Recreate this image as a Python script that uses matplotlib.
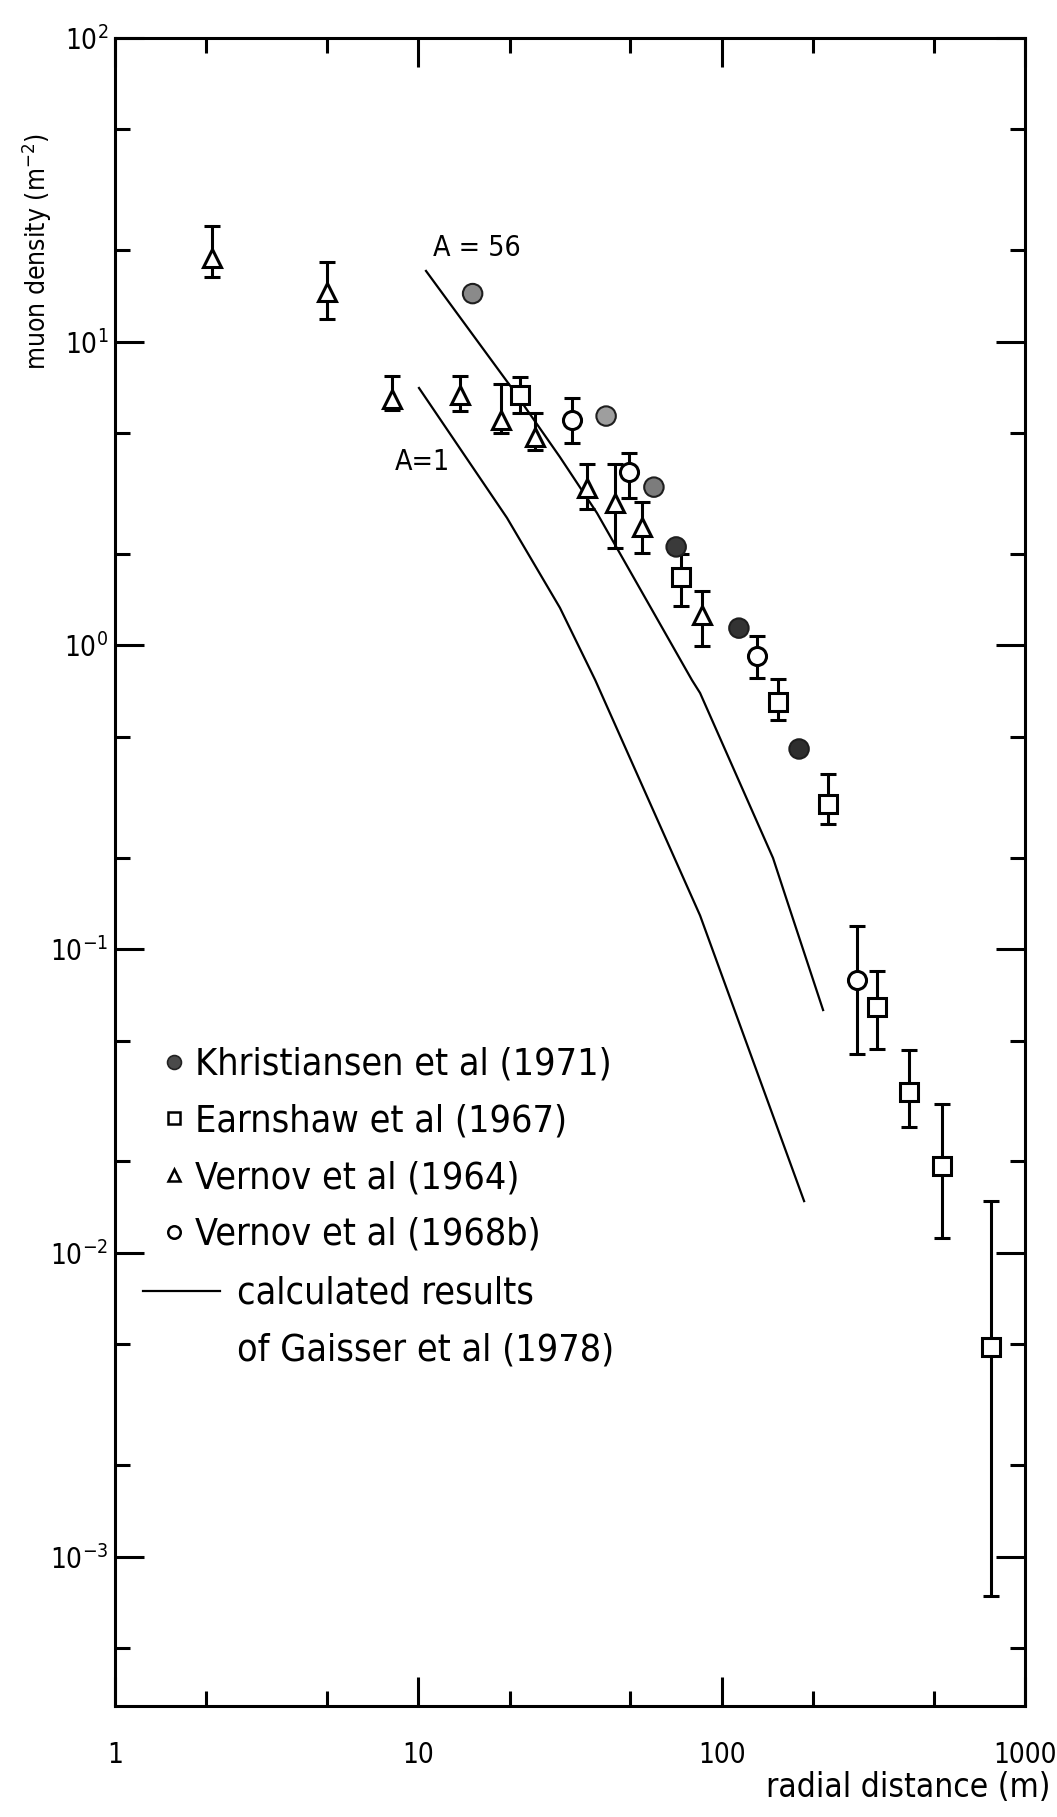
import matplotlib
matplotlib.use("Agg")
import matplotlib.pyplot as plt
from matplotlib.ticker import LogLocator, NullFormatter
from matplotlib.lines import Line2D
from matplotlib import font_manager as fm

# ---------------- data ----------------
kh_r = [15.1, 41.6, 59.8, 70.8, 114, 180]
kh_d = [14.4, 5.69, 3.32, 2.11, 1.14, 0.456]

ea_r = [21.6, 73.5, 153, 224, 325, 415, 533, 773]
ea_d = [6.67, 1.68, 0.651, 0.30, 0.0644, 0.0338, 0.0193, 0.0049]
ea_hi = [7.65, 2.0, 0.775, 0.377, 0.0847, 0.0466, 0.0309, 0.0148]
ea_lo = [5.82, 1.35, 0.568, 0.258, 0.0469, 0.026, 0.0112, 0.00074]

v64_r = [2.09, 5.0, 8.2, 13.7, 18.7, 24.3, 36.0, 44.5, 54.7, 86.2]
v64_d = [18.9, 14.6, 6.48, 6.67, 5.52, 4.86, 3.30, 2.94, 2.45, 1.26]
v64_hi = [24.0, 18.3, 7.7, 7.7, 7.26, 5.82, 3.96, 3.96, 2.97, 1.51]
v64_lo = [16.3, 11.9, 5.96, 5.93, 5.0, 4.4, 2.81, 2.09, 2.01, 0.995]

v68_r = [32.1, 49.5, 131, 279]
v68_d = [5.52, 3.72, 0.923, 0.079]
v68_hi = [6.53, 4.3, 1.07, 0.119]
v68_lo = [4.64, 3.06, 0.78, 0.0452]

a56_r = [10.6, 20.1, 29.3, 38.8, 79.8, 84.9, 147.7, 164, 216]
a56_d = [17.1, 7.15, 4.17, 2.73, 0.769, 0.697, 0.1995, 0.145, 0.063]

a1_r = [10.05, 19.6, 29.3, 38.3, 84.9, 187]
a1_d = [7.04, 2.63, 1.33, 0.769, 0.129, 0.0148]

legend_labels = ["Khristiansen et al (1971)", "Earnshaw et al (1967)",
                 "Vernov et al (1964)", "Vernov et al (1968b)"]
calc_labels = ["calculated results", "of Gaisser et al (1978)"]

# shading of the stippled Khristiansen dots (style)
kh_colors = ["#8a8a8a", "#9e9e9e", "#7c7c7c", "#3a3a3a", "#333333", "#2e2e2e"]

# ---------------- fonts ----------------
names = {f.name for f in fm.fontManager.ttflist}
if "Liberation Sans Narrow" in names:
    plt.rcParams["font.family"] = ["Liberation Sans Narrow", "DejaVu Sans"]
else:
    plt.rcParams["font.family"] = ["DejaVu Sans"]
    plt.rcParams["font.stretch"] = "condensed"
plt.rcParams["mathtext.default"] = "regular"

FS_TICK = 20
FS_LEG = 27
FS_XL = 24
FS_YL = 19
FS_ANN = 20.5

fig = plt.figure(figsize=(10.57, 18.17), dpi=100)
ax = fig.add_axes([0.1088, 0.0611, 0.9697 - 0.1088, 0.9791 - 0.0611])
ax.set_xscale("log")
ax.set_yscale("log")
ax.set_xlim(1, 1000)
ax.set_ylim(10 ** -3.492, 100)

lw = 2.2
for s in ax.spines.values():
    s.set_linewidth(lw)

ax.yaxis.set_major_locator(LogLocator(base=10, numticks=10))
ax.xaxis.set_minor_locator(LogLocator(base=10, subs=(2, 5), numticks=10))
ax.yaxis.set_minor_locator(LogLocator(base=10, subs=(2, 5), numticks=10))
ax.xaxis.set_minor_formatter(NullFormatter())
ax.yaxis.set_minor_formatter(NullFormatter())
ax.set_xticks([1, 10, 100, 1000])
ax.set_xticklabels(["1", "10", "100", "1000"])

ax.tick_params(which="both", direction="in", top=True, right=True, width=lw)
ax.tick_params(which="major", length=21, labelsize=FS_TICK)
ax.tick_params(which="minor", length=10.5)
ax.tick_params(axis="y", which="major", pad=5)
ax.tick_params(axis="x", which="major", pad=25)

# curves
ax.plot(a56_r, a56_d, color="black", lw=1.6, zorder=1)
ax.plot(a1_r, a1_d, color="black", lw=1.6, zorder=1)

eb = dict(color="black", ecolor="black", elinewidth=2.2, capsize=5.5, capthick=2.2,
          markersize=13, markeredgewidth=2.2, markerfacecolor="white",
          markeredgecolor="black", linestyle="none", zorder=3)

def err(d, lo, hi):
    return [[a - b for a, b in zip(d, lo)], [b - a for a, b in zip(d, hi)]]

ax.errorbar(ea_r, ea_d, yerr=err(ea_d, ea_lo, ea_hi), fmt="s", **eb)
ax.errorbar(v64_r, v64_d, yerr=err(v64_d, v64_lo, v64_hi), fmt="^", **eb)
ax.errorbar(v68_r, v68_d, yerr=err(v68_d, v68_lo, v68_hi), fmt="o", **eb)
ax.scatter(kh_r, kh_d, s=14 ** 2, c=kh_colors, edgecolors="#1e1e1e",
           linewidths=1.5, zorder=4)

ax.text(11.2, 20.4, "A = 56", fontsize=FS_ANN, ha="left", va="center")
ax.text(8.38, 4.02, "A=1", fontsize=FS_ANN, ha="left", va="center")

ax.set_xlabel("radial distance (m)", fontsize=FS_XL, ha="right", va="center")
ax.xaxis.set_label_coords(1.0275, -0.0486)
ax.set_ylabel(r"muon density (m$^{-2}$)", fontsize=FS_YL, ha="center", va="center")
ax.yaxis.set_label_coords(-0.0857, 0.872)

# legends
h1 = [Line2D([], [], marker="o", ls="none", ms=10, mfc="#4a4a4a", mec="#222222", mew=1.2),
      Line2D([], [], marker="s", ls="none", ms=9, mfc="white", mec="black", mew=1.8),
      Line2D([], [], marker="^", ls="none", ms=9, mfc="white", mec="black", mew=1.8),
      Line2D([], [], marker="o", ls="none", ms=9, mfc="white", mec="black", mew=1.8)]
leg1 = ax.legend(h1, legend_labels, loc="upper left", bbox_to_anchor=(0.0484, 0.3951),
                 borderaxespad=0, borderpad=0, frameon=False, fontsize=FS_LEG,
                 handlelength=0.8, handletextpad=0.16, labelspacing=0.55)
ax.add_artist(leg1)
h2 = [Line2D([], [], color="black", lw=1.6), Line2D([], [], color="none")]
ax.legend(h2, calc_labels, loc="upper left", bbox_to_anchor=(0.0308, 0.2578),
          borderaxespad=0, borderpad=0, frameon=False, fontsize=FS_LEG,
          handlelength=2.05, handletextpad=0.45, labelspacing=0.54)

fig.savefig("out.png", dpi=100)
